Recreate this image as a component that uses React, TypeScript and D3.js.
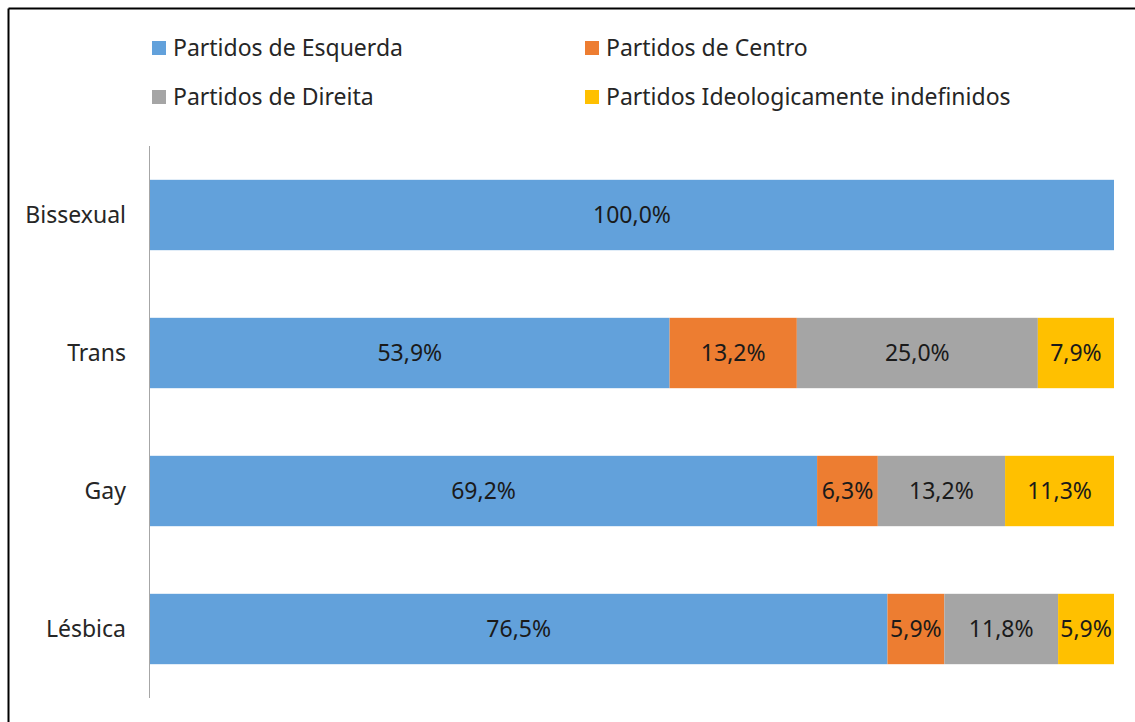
import React from 'react';
import * as d3 from 'd3';

const categories = ['Bissexual', 'Trans', 'Gay', 'Lésbica'];
const seriesNames = [
  'Partidos de Esquerda',
  'Partidos de Centro',
  'Partidos de Direita',
  'Partidos Ideologicamente indefinidos',
];
const esquerda = [100.0, 53.9, 69.2, 76.5];
const centro = [0, 13.2, 6.3, 5.9];
const direita = [0, 25.0, 13.2, 11.8];
const indefinidos = [0, 7.9, 11.3, 5.9];
const colors = ['#62A1DB', '#ED7D31', '#A5A5A5', '#FFC000'];

const fmt = (v: number) => v.toFixed(1).replace('.', ',') + '%';

export default function App() {
  const width = 1135;
  const height = 722;
  const margin = { t: 146, b: 24, l: 150, r: 21 };
  const font = '"Noto Sans", "Open Sans", sans-serif';
  const fs = 23;

  const rows = categories.map((c, i) => ({
    cat: c,
    vals: [esquerda[i], centro[i], direita[i], indefinidos[i]],
  }));

  const x = d3.scaleLinear().domain([0, 100]).range([margin.l, width - margin.r]);
  const y = d3
    .scaleBand()
    .domain(categories)
    .range([margin.t, height - margin.b])
    .paddingInner(0.49)
    .paddingOuter(0.245);

  const legendPos = [
    { x: 152, y: 41 },
    { x: 585, y: 41 },
    { x: 152, y: 90 },
    { x: 585, y: 90 },
  ];

  return (
    <div style={{ position: 'absolute', left: 0, top: 0 }}>
      <svg width={width} height={height} style={{ display: 'block' }}>
        <rect x={0} y={0} width={width} height={height} fill="#fff" />
        {/* border (top + left visible) */}
        <line x1={8.5} x2={width} y1={8.5} y2={8.5} stroke="#000" strokeWidth={2} />
        <line x1={8.5} x2={8.5} y1={8.5} y2={height} stroke="#000" strokeWidth={2} />

        {/* legend */}
        {seriesNames.map((s, i) => (
          <g key={s}>
            <rect x={legendPos[i].x} y={legendPos[i].y} width={14} height={14} fill={colors[i]} />
            <text
              x={legendPos[i].x + 21}
              y={legendPos[i].y + 15}
              fontFamily={font}
              fontSize={fs}
              fill="#262626"
            >
              {s}
            </text>
          </g>
        ))}

        {/* bars */}
        {rows.map(r => {
          let acc = 0;
          return (
            <g key={r.cat}>
              {r.vals.map((v, j) => {
                const x0 = x(acc);
                acc += v;
                const x1 = x(Math.min(acc, 100));
                if (v <= 0) return null;
                return (
                  <g key={j}>
                    <rect x={x0} y={y(r.cat)} width={x1 - x0} height={y.bandwidth()} fill={colors[j]} />
                    <text
                      x={(x0 + x1) / 2}
                      y={(y(r.cat) as number) + y.bandwidth() / 2 + 8}
                      textAnchor="middle"
                      fontFamily={font}
                      fontSize={fs}
                      fill="#1a1a1a"
                    >
                      {fmt(v)}
                    </text>
                  </g>
                );
              })}
              <text
                x={margin.l - 24}
                y={(y(r.cat) as number) + y.bandwidth() / 2 + 8}
                textAnchor="end"
                fontFamily={font}
                fontSize={fs}
                fill="#262626"
              >
                {r.cat}
              </text>
            </g>
          );
        })}

        {/* axis */}
        <line x1={margin.l - 0.5} x2={margin.l - 0.5} y1={margin.t} y2={height - margin.b} stroke="#A6A6A6" strokeWidth={1} />
      </svg>
    </div>
  );
}
